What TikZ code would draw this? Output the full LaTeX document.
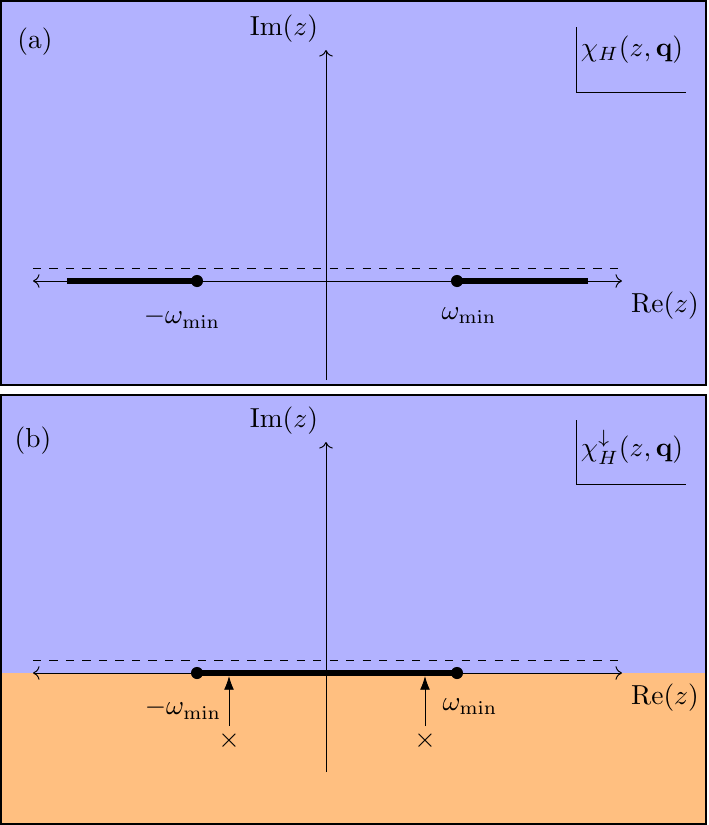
\documentclass[tikz,border=0pt]{standalone}
\usetikzlibrary{arrows.meta}
\begin{document}
\begin{tikzpicture}[x=0.364pt,y=-0.364pt,
  panel/.style={draw=black,line width=0.55pt},
  axis/.style={line width=0.35pt},
  cut/.style={line width=2.5pt},
  dot/.style={circle,fill=black,inner sep=0pt,minimum size=4.4pt},
  lbl/.style={inner sep=0pt},
  pole/.style={-{Latex[length=5pt,width=3.6pt]},line width=0.35pt}]
\useasboundingbox (0,0) rectangle (709,825);
% ---------- panel (a)
\fill[blue!30] (1,1) rectangle (706,385);
\draw[panel] (1,1) rectangle (706,385);
\coordinate (aL) at (33,281);
\coordinate (aR) at (622,281);
\coordinate (aB) at (326,380);
\coordinate (aT) at (326,50);
\coordinate (adL) at (33,268);
\coordinate (adR) at (622,268);
\draw[axis,<->] (aL) -- (aR);
\draw[axis,->] (aB) -- (aT);
\draw[axis,dashed] (adL) -- (adR);
\coordinate (acl) at (67,281);
\coordinate (acr) at (588,281);
\node[dot] (am) at (197,281) {};
\node[dot] (ap) at (457,281) {};
\draw[cut] (acl) -- (am.center);
\draw[cut] (ap.center) -- (acr);
\node[lbl] (aim) at (284,29) {Im$(z)$};
\node[lbl] (are) at (665,306) {Re$(z)$};
\node[lbl] (alm) at (182,318) {$-\omega_{\mathrm{min}}$};
\node[lbl] (alp) at (469,316) {$\omega_{\mathrm{min}}$};
\node[lbl] (atag) at (35,42) {(a)};
\node[lbl] (achi) at (632,50) {$\chi_H(z,\mathbf{q})$};
\coordinate (ab1) at (576,27);
\coordinate (ab2) at (576,92);
\coordinate (ab3) at (686,92);
\draw[axis] (ab1) -- (ab2) -- (ab3);
% ---------- panel (b)
\fill[blue!30] (1,395) rectangle (706,673);
\fill[orange!50] (1,673) rectangle (706,824);
\draw[panel] (1,395) rectangle (706,824);
\coordinate (bL) at (33,673);
\coordinate (bR) at (622,673);
\coordinate (bB) at (326,772);
\coordinate (bT) at (326,442);
\coordinate (bdL) at (33,660);
\coordinate (bdR) at (622,660);
\draw[axis,<->] (bL) -- (bR);
\draw[axis,->] (bB) -- (bT);
\draw[axis,dashed] (bdL) -- (bdR);
\node[dot] (bm) at (197,673) {};
\node[dot] (bp) at (457,673) {};
\draw[cut] (bm.center) -- (bp.center);
\node[lbl] (x1) at (229,741) {$\times$};
\node[lbl] (x2) at (425,741) {$\times$};
\coordinate (s1) at (229,726);
\coordinate (t1) at (229,676);
\coordinate (s2) at (425,726);
\coordinate (t2) at (425,676);
\draw[pole] (s1) -- (t1);
\draw[pole] (s2) -- (t2);
\node[lbl] (bim) at (284,421) {Im$(z)$};
\node[lbl] (bre) at (665,698) {Re$(z)$};
\node[lbl] (blm) at (183,709) {$-\omega_{\mathrm{min}}$};
\node[lbl] (blp) at (470,707) {$\omega_{\mathrm{min}}$};
\node[lbl] (btag) at (33,441) {(b)};
\node[lbl] (bchi) at (632,447) {$\chi^{\downarrow}_H(z,\mathbf{q})$};
\coordinate (bb1) at (576,420);
\coordinate (bb2) at (576,484);
\coordinate (bb3) at (686,484);
\draw[axis] (bb1) -- (bb2) -- (bb3);
\end{tikzpicture}
\end{document}
